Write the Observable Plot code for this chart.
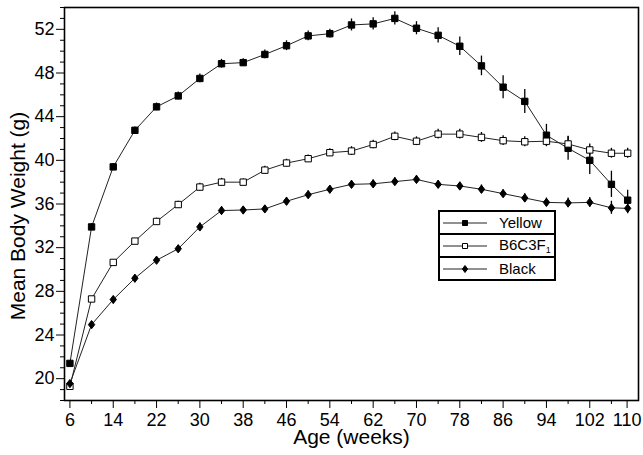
<!DOCTYPE html>
<html>
<head>
<meta charset="utf-8">
<script src="https://cdn.jsdelivr.net/npm/d3@7"></script>
<script src="https://cdn.jsdelivr.net/npm/@observablehq/plot@0.6"></script>
<style>
  html, body { margin: 0; padding: 0; background: #fff; }
  #wrap { position: relative; width: 643px; height: 455px; font-family: "Liberation Sans", Arial, Helvetica, sans-serif; }
  #legend { position: absolute; left: 438px; top: 210px; width: 118px; border: 2px solid #000; background: #fff; box-sizing: border-box; }
  #legend .row { display: flex; align-items: center; height: 21px; border-bottom: 2px solid #000; font-size: 15px; color: #000; }
  #legend .row:last-child { border-bottom: none; }
  #legend svg { margin-left: 3px; margin-right: 12px; }
  #legend sub { font-size: 9px; vertical-align: -3px; }
</style>
</head>
<body>
<div id="wrap"></div>
<script>
// ---- data ----
const weeks = [6, 10, 14, 18, 22, 26, 30, 34, 38, 42, 46, 50, 54, 58, 62, 66, 70, 74, 78, 82, 86, 90, 94, 98, 102, 106, 109];
const yellow = [21.4, 33.9, 39.4, 42.75, 44.9, 45.9, 47.5, 48.85, 48.95, 49.7, 50.5, 51.4, 51.6, 52.4, 52.5, 53.0, 52.1, 51.45, 50.45, 48.65, 46.7, 45.4, 42.3, 41.1, 40.0, 37.8, 36.35];
const yellowErr = [0.2, 0.3, 0.3, 0.3, 0.35, 0.35, 0.4, 0.4, 0.35, 0.4, 0.45, 0.45, 0.4, 0.55, 0.55, 0.6, 0.6, 0.7, 0.85, 0.9, 1.05, 1.1, 1.0, 1.1, 1.3, 1.2, 0.9];
const b6c3f1 = [19.3, 27.3, 30.65, 32.6, 34.4, 35.95, 37.55, 38.0, 38.0, 39.1, 39.75, 40.15, 40.7, 40.85, 41.45, 42.2, 41.75, 42.4, 42.4, 42.1, 41.8, 41.7, 41.75, 41.5, 40.95, 40.65, 40.65];
const b6c3f1Err = [0.15, 0.25, 0.25, 0.25, 0.3, 0.3, 0.35, 0.35, 0.3, 0.35, 0.35, 0.35, 0.35, 0.4, 0.4, 0.4, 0.4, 0.45, 0.45, 0.45, 0.45, 0.45, 0.5, 0.65, 0.55, 0.45, 0.45];
const black = [19.55, 24.95, 27.25, 29.2, 30.85, 31.9, 33.9, 35.4, 35.45, 35.55, 36.25, 36.85, 37.35, 37.8, 37.85, 38.05, 38.25, 37.8, 37.65, 37.35, 36.95, 36.55, 36.15, 36.1, 36.15, 35.65, 35.6];
const blackErr = [0.15, 0.25, 0.25, 0.25, 0.25, 0.3, 0.35, 0.35, 0.3, 0.3, 0.35, 0.35, 0.35, 0.35, 0.35, 0.35, 0.35, 0.35, 0.35, 0.4, 0.35, 0.4, 0.4, 0.45, 0.45, 0.6, 0.5];

const seriesNames = ["Yellow", "B6C3F1", "Black"];
const seriesFills = ["#000", "#fff", "#000"];

const xMajorTicks = [6, 14, 22, 30, 38, 46, 54, 62, 70, 78, 86, 94, 102];
const xLastTick = [110];
const xMinorTicks = [10, 18, 26, 34, 42, 50, 58, 66, 74, 82, 90, 98, 106];
const yMajorTicks = [20, 24, 28, 32, 36, 40, 44, 48, 52];
const yMinorTicks = d3.range(18, 55).filter(v => v % 4 !== 0);

const xLabel = "Age (weeks)";
const yLabel = "Mean Body Weight (g)";

// ---- build table ----
const valueSets = [yellow, b6c3f1, black];
const errSets = [yellowErr, b6c3f1Err, blackErr];
const rows = [];
seriesNames.forEach((name, s) => {
  weeks.forEach((w, i) => {
    rows.push({series: name, week: w, value: valueSets[s][i], lo: valueSets[s][i] - errSets[s][i], hi: valueSets[s][i] + errSets[s][i]});
  });
});

// diamond a bit taller than wide
const diamond = {
  draw(context, size) {
    const a = Math.sqrt(size / (2 * 1.3));
    const h = a * 1.3;
    context.moveTo(0, -h);
    context.lineTo(a, 0);
    context.lineTo(0, h);
    context.lineTo(-a, 0);
    context.closePath();
  }
};
const seriesSymbols = ["square", "square", diamond];

const font = '"Liberation Sans", Arial, Helvetica, sans-serif';

const marks = [
  Plot.frame({stroke: "#000", strokeWidth: 1.6}),
  Plot.axisX({ticks: xMinorTicks, tickSize: 4, tickFormat: () => "", label: null, strokeWidth: 1}),
  Plot.axisX({ticks: xMajorTicks, tickSize: 8, tickPadding: 5, label: null, fontSize: 18, strokeWidth: 1}),
  Plot.axisX({ticks: xLastTick, tickSize: 8, tickPadding: 5, label: null, fontSize: 18, strokeWidth: 1, dx: -6}),
  Plot.axisY({ticks: yMinorTicks, tickSize: 4, tickFormat: () => "", label: null, strokeWidth: 1}),
  Plot.axisY({ticks: yMajorTicks, tickSize: 8, tickPadding: 2, label: null, fontSize: 18, strokeWidth: 1}),
  Plot.text([xLabel], {frameAnchor: "bottom", lineAnchor: "middle", dy: 37, fontSize: 21, fill: "#000"}),
  Plot.text([yLabel], {frameAnchor: "left", textAnchor: "middle", lineAnchor: "middle", rotate: -90, dx: -46, dy: 12, fontSize: 21, fill: "#000"})
];

seriesNames.forEach((name, s) => {
  const d = rows.filter(r => r.series === name);
  marks.push(Plot.line(d, {x: "week", y: "value", stroke: "#222", strokeWidth: 1}));
  marks.push(Plot.ruleX(d, {x: "week", y1: "lo", y2: "hi", stroke: "#000", strokeWidth: 1.3}));
});
seriesNames.forEach((name, s) => {
  const d = rows.filter(r => r.series === name);
  marks.push(Plot.dot(d, {x: "week", y: "value", symbol: seriesSymbols[s], r: s === 2 ? 2.9 : 3.6, fill: seriesFills[s], stroke: "#000", strokeWidth: 1}));
});

const chart = Plot.plot({
  width: 643,
  height: 455,
  marginLeft: 64,
  marginRight: 5,
  marginTop: 7,
  marginBottom: 55,
  style: {fontFamily: font, color: "#000", background: "#fff"},
  x: {domain: [5, 111]},
  y: {domain: [18, 54]},
  marks
});

const wrap = document.getElementById("wrap");
wrap.appendChild(chart);

// ---- legend ----
const legend = document.createElement("div");
legend.id = "legend";
seriesNames.forEach((name, s) => {
  const row = document.createElement("div");
  row.className = "row";
  const sym = s === 2 ? "M0,-3.5L2.6,0L0,3.5L-2.6,0Z" : "M-2.5,-2.5h5v5h-5Z";
  row.innerHTML = `<svg width="44" height="10" viewBox="0 0 44 10"><line x1="0" y1="5" x2="44" y2="5" stroke="#222" stroke-width="1"/><path transform="translate(22,5)" d="${sym}" fill="${seriesFills[s]}" stroke="#000" stroke-width="1"/></svg>`;
  const label = document.createElement("span");
  if (name === "B6C3F1") label.innerHTML = "B6C3F<sub>1</sub>";
  else label.textContent = name;
  row.appendChild(label);
  legend.appendChild(row);
});
wrap.appendChild(legend);
</script>
</body>
</html>
